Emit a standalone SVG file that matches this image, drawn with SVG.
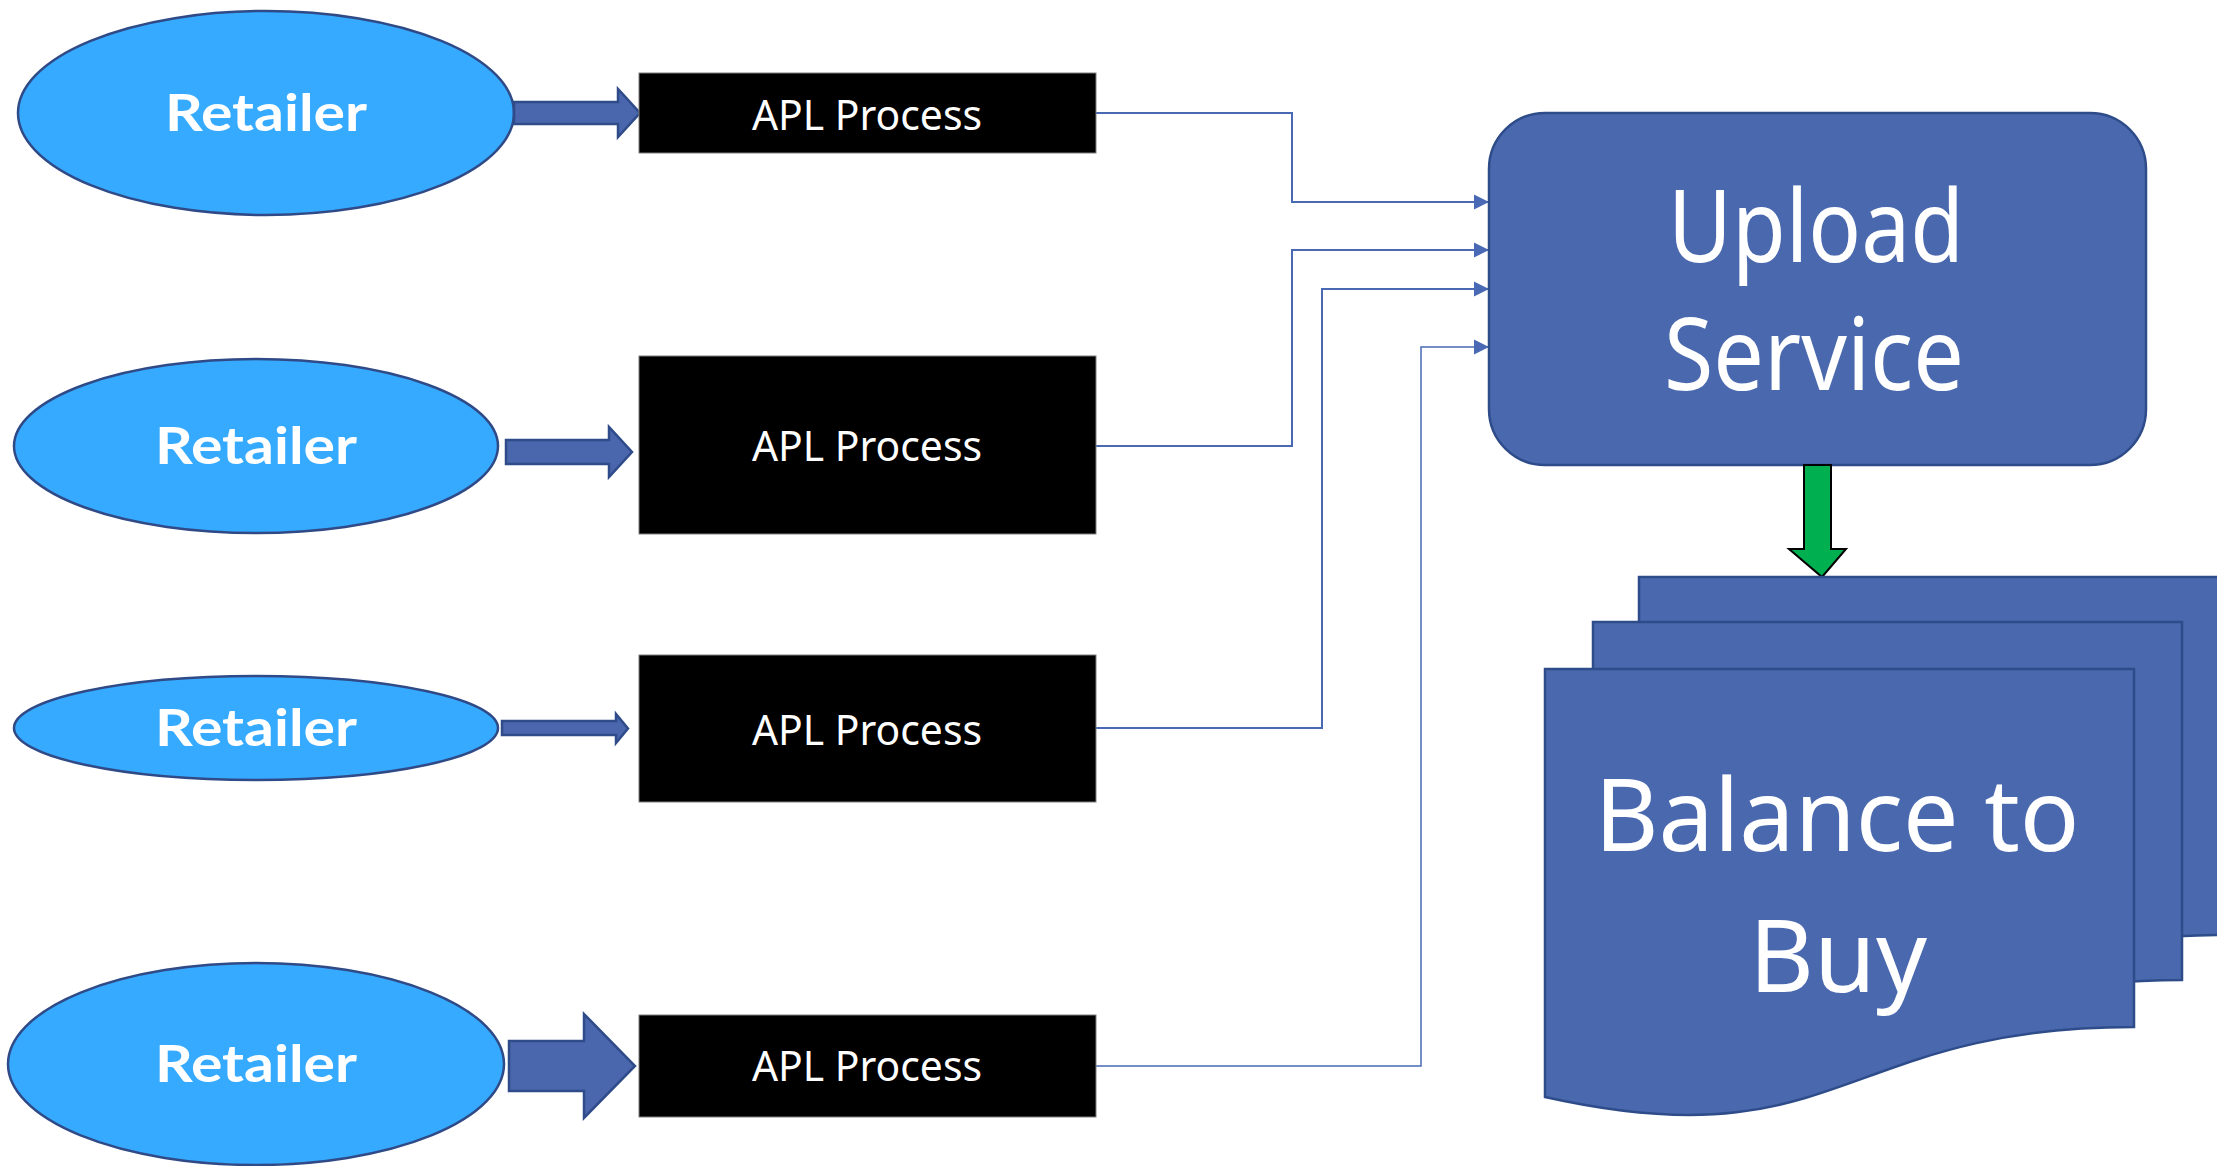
<svg xmlns="http://www.w3.org/2000/svg" width="2217" height="1166" viewBox="0 0 2217 1166">
<style>
.ell{fill:#35AAFF;stroke:#2F4A86;stroke-width:2.5}
.ret{font-family:Lato,"Open Sans",sans-serif;font-weight:700;font-size:52px;fill:#fff;text-anchor:middle}
.box{fill:#000;stroke:#7f7f7f;stroke-width:1}
.apl{font-family:"Noto Sans","Open Sans",sans-serif;font-size:41px;fill:#fff;text-anchor:middle}
.blk{fill:#4A66AC;stroke:#2F4B8A;stroke-width:2.5}
.con{fill:none;stroke:#4A69B4;stroke-width:2}
.svc{fill:#4A68AE;stroke:#2F4C8A;stroke-width:2.5}
.big{font-family:"Noto Sans","Open Sans",sans-serif;font-size:100px;fill:#fff;text-anchor:middle}
</style>
<defs>
<marker id="ah" markerWidth="16" markerHeight="16" refX="15" refY="8" orient="auto" markerUnits="userSpaceOnUse">
<path d="M0,0.5 L15,8 L0,15.5 Z" fill="#4A69B4"/>
</marker>
<path id="doc" d="M0,0 L589,0 L589,358 C295,358 295,494 0,428 Z"/>
</defs>
<rect width="2217" height="1166" fill="#fff"/>

<g id="connectors">
<polyline class="con" points="1096,113 1292,113 1292,202 1489,202" marker-end="url(#ah)"/>
<polyline class="con" points="1096,446 1292,446 1292,250 1489,250" marker-end="url(#ah)"/>
<polyline class="con" points="1096,728 1322,728 1322,289 1489,289" marker-end="url(#ah)"/>
<polyline class="con" style="stroke-width:1.5" points="1096,1066 1421,1066 1421,347 1489,347" marker-end="url(#ah)"/>
</g>

<g id="retailer1">
<ellipse class="ell" cx="266" cy="113" rx="248" ry="102"/>
<text class="ret" x="266" y="131" textLength="202" lengthAdjust="spacingAndGlyphs">Retailer</text>
</g>
<g id="retailer2">
<ellipse class="ell" cx="256" cy="446" rx="242" ry="87"/>
<text class="ret" x="256" y="464" textLength="202" lengthAdjust="spacingAndGlyphs">Retailer</text>
</g>
<g id="retailer3">
<ellipse class="ell" cx="256" cy="728" rx="242" ry="52"/>
<text class="ret" x="256" y="746" textLength="202" lengthAdjust="spacingAndGlyphs">Retailer</text>
</g>
<g id="retailer4">
<ellipse class="ell" cx="256" cy="1064" rx="248" ry="101"/>
<text class="ret" x="256" y="1082" textLength="202" lengthAdjust="spacingAndGlyphs">Retailer</text>
</g>

<g id="arrow1"><path class="blk" d="M514,102 L618,102 L618,89 L640,113 L618,137 L618,124 L514,124 Z"/></g>
<g id="arrow2"><path class="blk" d="M506,440 L609,440 L609,427 L632,452 L609,477 L609,464 L506,464 Z"/></g>
<g id="arrow3"><path class="blk" d="M502,721 L616,721 L616,714 L628,728.5 L616,743 L616,735 L502,735 Z"/></g>
<g id="arrow4"><path class="blk" d="M509,1041 L584,1041 L584,1014 L635,1066 L584,1118 L584,1091 L509,1091 Z"/></g>

<g id="apl1">
<rect class="box" x="639" y="73" width="457" height="80"/>
<text class="apl" x="867" y="130" textLength="230" lengthAdjust="spacingAndGlyphs">APL Process</text>
</g>
<g id="apl2">
<rect class="box" x="639" y="356" width="457" height="178"/>
<text class="apl" x="867" y="461" textLength="230" lengthAdjust="spacingAndGlyphs">APL Process</text>
</g>
<g id="apl3">
<rect class="box" x="639" y="655" width="457" height="147"/>
<text class="apl" x="867" y="745" textLength="230" lengthAdjust="spacingAndGlyphs">APL Process</text>
</g>
<g id="apl4">
<rect class="box" x="639" y="1015" width="457" height="102"/>
<text class="apl" x="867" y="1081" textLength="230" lengthAdjust="spacingAndGlyphs">APL Process</text>
</g>

<g id="upload-service">
<rect class="svc" x="1489" y="113" width="657" height="352" rx="56" ry="56"/>
<text class="big" x="1816" y="262" textLength="296" lengthAdjust="spacingAndGlyphs">Upload</text>
<text class="big" x="1814" y="390" textLength="300" lengthAdjust="spacingAndGlyphs">Service</text>
</g>

<g id="green-arrow">
<path d="M1804,465 L1831,465 L1831,549 L1846,549 L1822,577 L1789,549 L1804,549 Z" fill="#00B050" stroke="#000" stroke-width="2"/>
</g>

<g id="balance-to-buy">
<use href="#doc" class="svc" transform="translate(1639,577)"/>
<use href="#doc" class="svc" transform="translate(1593,622)"/>
<use href="#doc" class="svc" transform="translate(1545,669)"/>
<text class="big" x="1837" y="851" textLength="485" lengthAdjust="spacingAndGlyphs">Balance to</text>
<text class="big" x="1838" y="992">Buy</text>
</g>
</svg>
